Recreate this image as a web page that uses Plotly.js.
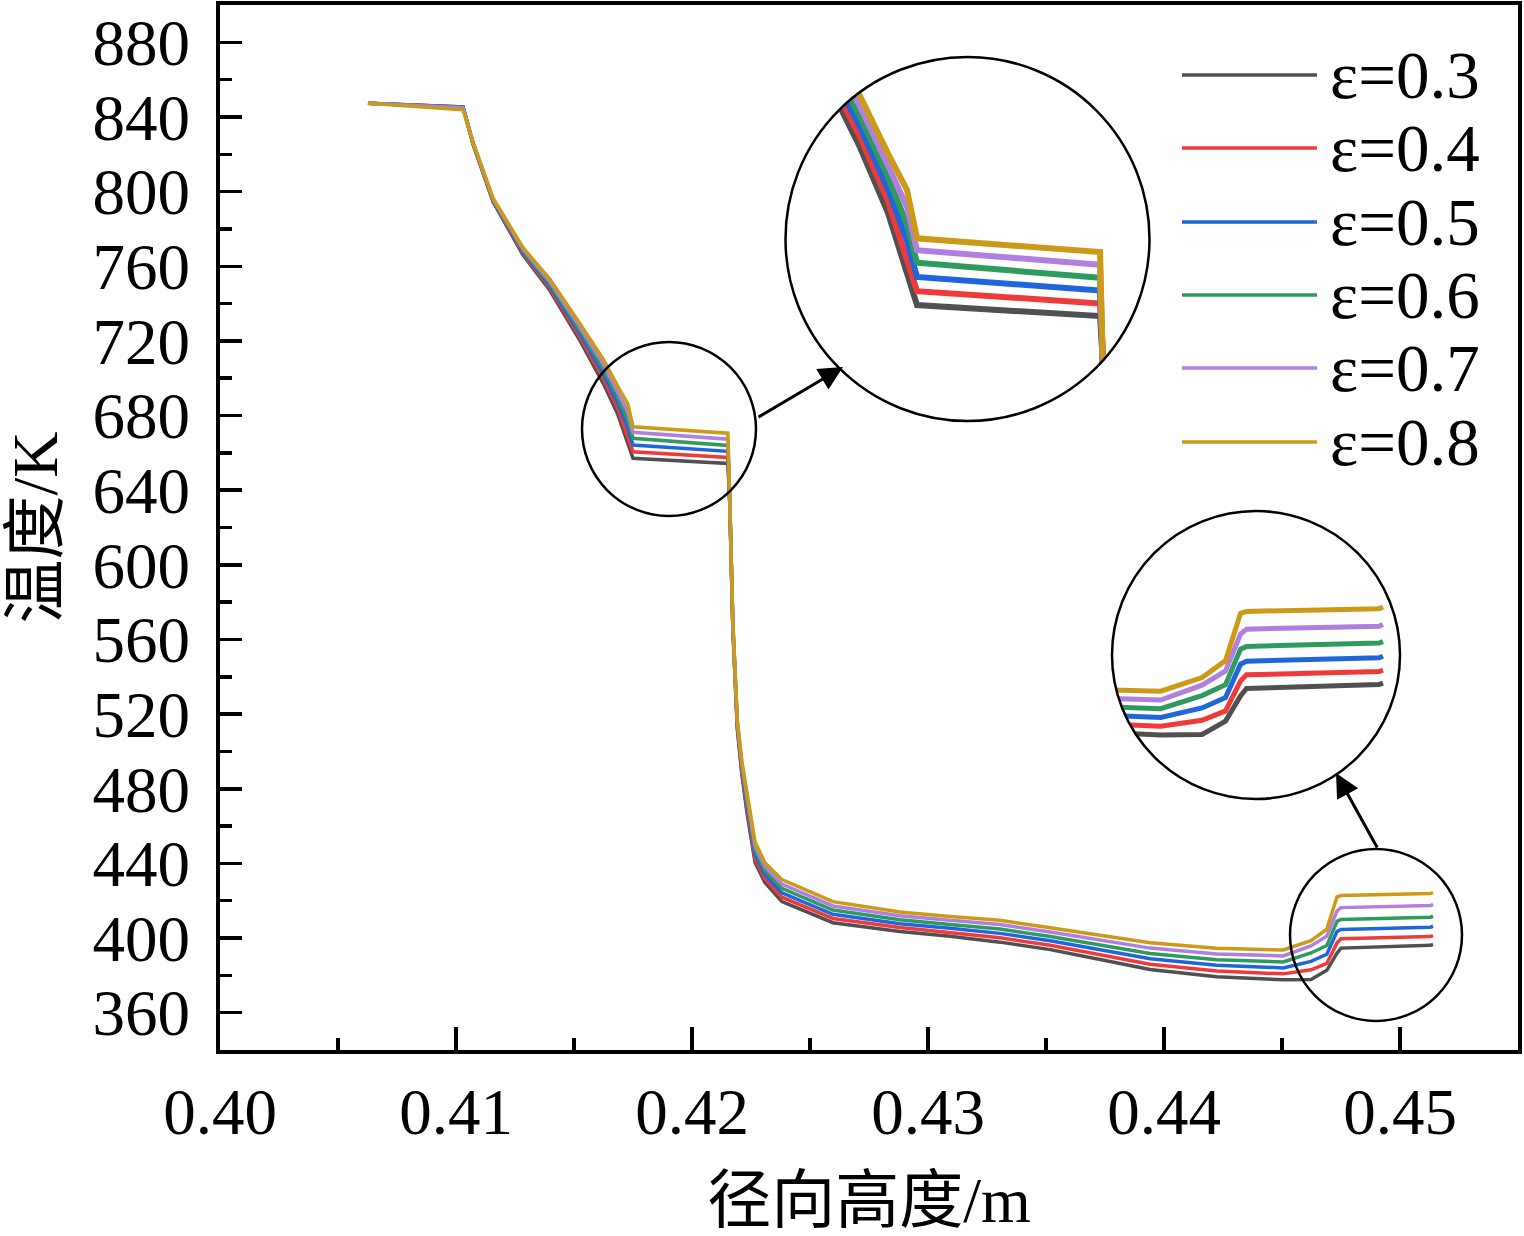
<!DOCTYPE html>
<html>
<head>
<meta charset="utf-8">
<script src="https://cdn.plot.ly/plotly-3.0.1.min.js"></script>
<style>
  html, body { margin: 0; padding: 0; background: #fff; }
  #chart { width: 1524px; height: 1236px; }
</style>
</head>
<body>
<div id="chart"></div>
<script>
// radial height (m) and temperature (K) for each emissivity
const radialHeight = [0.40627, 0.41030, 0.41072, 0.41157, 0.41284, 0.41398, 0.41526, 0.41625, 0.41686, 0.41728,
    0.41750, 0.42152, 0.42160, 0.42173, 0.42192, 0.42211, 0.42233, 0.42267, 0.42309, 0.42381,
    0.42597, 0.42881, 0.43093, 0.43305, 0.43518, 0.43729, 0.43941, 0.44223, 0.44505, 0.44623,
    0.44690, 0.44733, 0.44750, 0.45129, 0.45140];

const tempEps03 = [847.3, 845.4, 825.5, 794.5, 766.0, 747.0, 720.0, 697.0, 680.5, 664.8,
    657.1, 654.3, 633.0, 566.0, 512.0, 488.0, 467.0, 440.5, 429.7, 419.5,
    408.2, 403.5, 400.9, 397.8, 393.8, 388.5, 383.1, 379.3, 377.6, 377.8,
    382.7, 391.9, 394.6, 396.1, 396.6];
const tempEps04 = [847.3, 845.3, 825.7, 794.9, 766.8, 748.2, 721.8, 699.6, 683.5, 669.1,
    660.6, 657.5, 633.4, 566.8, 513.0, 489.4, 469.2, 442.7, 431.8, 421.9,
    410.5, 405.6, 403.0, 400.1, 396.1, 391.1, 386.0, 382.3, 380.8, 383.0,
    386.4, 397.4, 399.6, 400.8, 401.3];
const tempEps05 = [847.3, 845.2, 825.9, 795.3, 767.6, 749.4, 723.6, 702.2, 686.5, 673.4,
    664.2, 660.8, 633.8, 567.6, 514.0, 490.8, 471.4, 444.9, 434.0, 424.2,
    412.7, 407.7, 405.2, 402.5, 398.5, 393.7, 388.9, 385.4, 384.0, 387.5,
    391.3, 403.5, 404.6, 405.8, 406.4];
const tempEps06 = [847.3, 845.1, 826.1, 795.7, 768.4, 750.6, 725.4, 704.8, 689.5, 677.6,
    667.8, 664.0, 634.2, 568.4, 515.0, 492.2, 473.6, 447.2, 436.1, 426.6,
    415.0, 409.8, 407.3, 404.8, 400.8, 396.3, 391.7, 388.4, 387.2, 392.0,
    396.0, 409.0, 410.0, 411.2, 411.8];
const tempEps07 = [847.3, 844.9, 826.3, 796.1, 769.2, 751.8, 727.2, 707.4, 692.5, 681.9,
    671.0, 667.3, 634.6, 569.2, 516.0, 493.6, 475.8, 449.4, 438.3, 428.9,
    417.2, 411.9, 409.5, 407.2, 403.2, 398.9, 394.6, 391.5, 390.4, 395.8,
    401.0, 414.5, 416.3, 417.4, 418.0];
const tempEps08 = [847.3, 843.8, 826.5, 796.5, 770.0, 753.0, 729.0, 710.0, 695.5, 686.2,
    674.0, 670.5, 635.0, 570.0, 517.0, 495.0, 478.0, 451.6, 440.4, 431.3,
    419.5, 414.0, 411.6, 409.5, 405.5, 401.5, 397.5, 394.5, 393.6, 398.6,
    404.8, 422.1, 422.8, 423.8, 424.4];

const epsLabels = ['0.3', '0.4', '0.5', '0.6', '0.7', '0.8'];
const seriesTemps = [tempEps03, tempEps04, tempEps05, tempEps06, tempEps07, tempEps08];
const lineColors = ['#505050', '#f03a3a', '#1f66dd', '#2e9a5e', '#b07fe0', '#cc9a16'];

const W = 1524, H = 1236;
const M = { l: 220, r: 6, t: 5, b: 186 };
const PW = W - M.l - M.r, PH = H - M.t - M.b;
// page pixel -> paper fraction
const px = x => (x - M.l) / PW;
const py = y => 1 - (y - M.t) / PH;

const SERIF = '"Times New Roman", "Liberation Serif", serif';
const TITLEFONT = '"Times New Roman", "Liberation Serif", "Noto Sans CJK SC", serif';

// magnifier circles (page pixels)
const zoomA = { cx: 669, cy: 429, r: 87 };
const zoomABig = { cx: 967.5, cy: 239, r: 182 };
const zoomB = { cx: 1376, cy: 935, r: 86 };
const zoomBBig = { cx: 1256, cy: 655, r: 144 };

const traces = [];
seriesTemps.forEach((temps, i) => {
    traces.push({
        x: radialHeight, y: temps, type: 'scatter', mode: 'lines',
        name: 'ε=' + epsLabels[i], showlegend: false,
        line: { color: lineColors[i], width: 3.5 }
    });
});
seriesTemps.forEach((temps, i) => {
    traces.push({
        x: radialHeight, y: temps, type: 'scatter', mode: 'lines',
        xaxis: 'x2', yaxis: 'y2', showlegend: false, hoverinfo: 'skip',
        line: { color: lineColors[i], width: 6 }
    });
});
seriesTemps.forEach((temps, i) => {
    traces.push({
        x: radialHeight, y: temps, type: 'scatter', mode: 'lines',
        xaxis: 'x3', yaxis: 'y3', showlegend: false, hoverinfo: 'skip',
        line: { color: lineColors[i], width: 5 }
    });
});

function circleShape(c) {
    return {
        type: 'circle', xref: 'paper', yref: 'paper', layer: 'above',
        x0: px(c.cx - c.r), x1: px(c.cx + c.r), y0: py(c.cy + c.r), y1: py(c.cy - c.r),
        line: { color: '#000', width: 2.5 }, fillcolor: 'rgba(0,0,0,0)'
    };
}

// white square with a round hole, hides inset lines outside the big circle
function maskShape(c) {
    const p = c.r + 8;
    let d = 'M' + px(c.cx - p) + ',' + py(c.cy - p) + ' L' + px(c.cx + p) + ',' + py(c.cy - p) +
        ' L' + px(c.cx + p) + ',' + py(c.cy + p) + ' L' + px(c.cx - p) + ',' + py(c.cy + p) + ' Z';
    for (let i = 0; i <= 120; i++) {
        const a = i / 120 * 2 * Math.PI;
        d += (i ? ' L' : ' M') + px(c.cx + (c.r - 1) * Math.cos(a)) + ',' + py(c.cy - (c.r - 1) * Math.sin(a));
    }
    d += ' Z';
    return {
        type: 'path', xref: 'paper', yref: 'paper', layer: 'above', path: d,
        fillcolor: '#fff', fillrule: 'evenodd', line: { width: 0 }
    };
}

const shapes = [maskShape(zoomABig), maskShape(zoomBBig),
    circleShape(zoomA), circleShape(zoomABig), circleShape(zoomB), circleShape(zoomBBig)];

const annotations = [];
const legendRows = [75, 148, 222, 295, 368, 442];
epsLabels.forEach((lab, i) => {
    shapes.push({
        type: 'line', xref: 'paper', yref: 'paper', layer: 'above',
        x0: px(1182), x1: px(1317), y0: py(legendRows[i]), y1: py(legendRows[i]),
        line: { color: lineColors[i], width: 3.5 }
    });
    annotations.push({
        xref: 'paper', yref: 'paper', x: px(1328), y: py(legendRows[i]),
        xanchor: 'left', yanchor: 'middle', showarrow: false,
        text: 'ε=' + lab, font: { family: SERIF, size: 67, color: '#000' }
    });
});

// arrows from small to big circles
annotations.push({
    xref: 'paper', yref: 'paper', x: px(843), y: py(367), ax: -86, ay: 51,
    text: '', showarrow: true, arrowhead: 2, arrowsize: 1.6, arrowwidth: 3, arrowcolor: '#000'
});
annotations.push({
    xref: 'paper', yref: 'paper', x: px(1336), y: py(773), ax: 42, ay: 76,
    text: '', showarrow: true, arrowhead: 2, arrowsize: 1.6, arrowwidth: 3, arrowcolor: '#000'
});

const layout = {
    width: W, height: H,
    margin: M,
    paper_bgcolor: '#fff',
    plot_bgcolor: 'rgba(0,0,0,0)',
    showlegend: false,
    xaxis: {
        range: [0.40, 0.455],
        dtick: 0.01, tick0: 0.40, tickformat: '.2f',
        ticks: 'inside', ticklen: 23, tickwidth: 3.5, tickcolor: '#000',
        minor: { dtick: 0.005, ticks: 'inside', ticklen: 12, tickwidth: 3.5, tickcolor: '#000' },
        showline: true, linewidth: 4, linecolor: '#000', mirror: true,
        showgrid: false, zeroline: false,
        ticklabelstandoff: 2,
        tickfont: { family: SERIF, size: 65, color: '#000' },
        title: { text: '径向高度/m', standoff: 56, font: { family: TITLEFONT, size: 64, color: '#000' } }
    },
    yaxis: {
        range: [340, 900],
        dtick: 40, tick0: 360,
        ticks: 'inside', ticklen: 22, tickwidth: 3.5, tickcolor: '#000',
        minor: { dtick: 20, ticks: 'inside', ticklen: 12, tickwidth: 3.5, tickcolor: '#000' },
        showline: true, linewidth: 4, linecolor: '#000', mirror: true,
        showgrid: false, zeroline: false,
        ticklabelstandoff: 13,
        tickfont: { family: SERIF, size: 65, color: '#000' },
        title: { text: '温度/K', standoff: 46, font: { family: TITLEFONT, size: 64, color: '#000' } }
    },
    xaxis2: {
        domain: [px(zoomABig.cx - zoomABig.r), px(zoomABig.cx + zoomABig.r)],
        range: [0.414611, 0.422607], anchor: 'y2', visible: false
    },
    yaxis2: {
        domain: [py(zoomABig.cy + zoomABig.r), py(zoomABig.cy - zoomABig.r)],
        range: [627.75, 719.9], anchor: 'x2', visible: false
    },
    xaxis3: {
        domain: [px(zoomBBig.cx - zoomBBig.r), px(zoomBBig.cx + zoomBBig.r)],
        range: [0.443657, 0.451886], anchor: 'y3', visible: false
    },
    yaxis3: {
        domain: [py(zoomBBig.cy + zoomBBig.r), py(zoomBBig.cy - zoomBBig.r)],
        range: [354.2, 459.5], anchor: 'x3', visible: false
    },
    shapes: shapes,
    annotations: annotations
};

Plotly.newPlot('chart', traces, layout, { displayModeBar: false, staticPlot: true });
</script>
</body>
</html>
